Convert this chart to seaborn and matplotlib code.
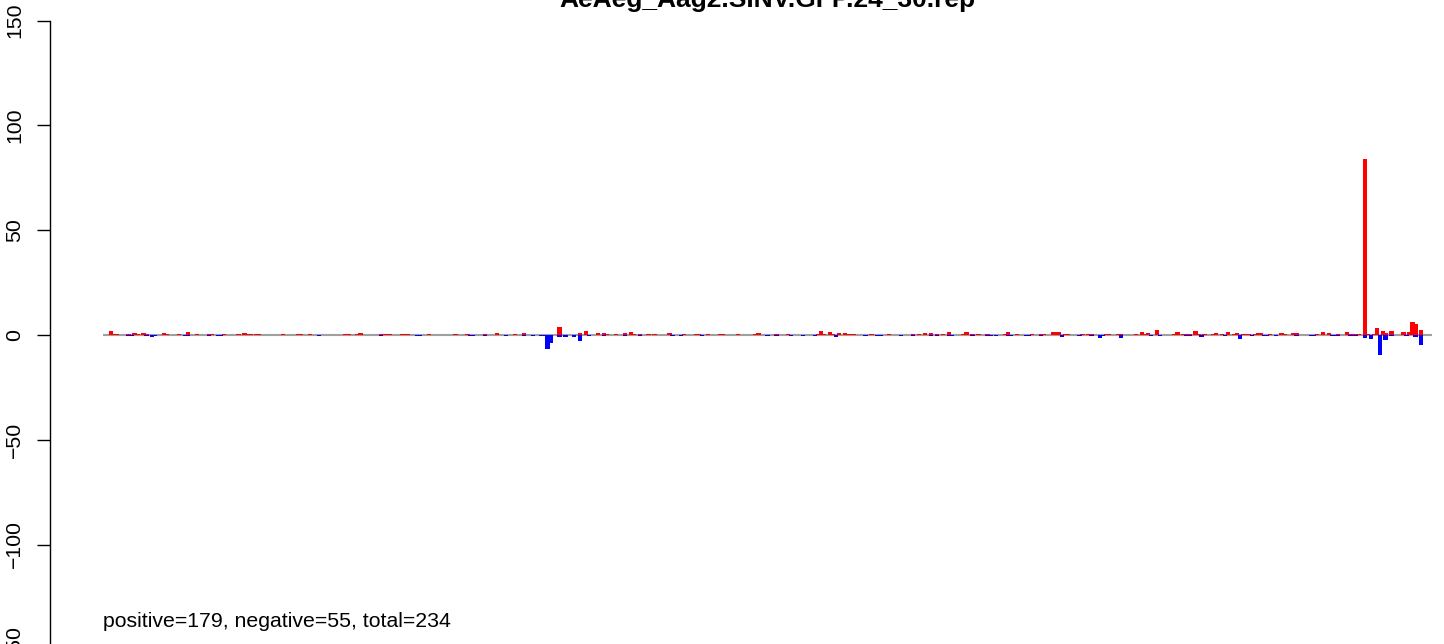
import numpy as np
import pandas as pd
import seaborn as sns
import matplotlib.pyplot as plt

sns.set_style("ticks")
plt.rcParams['font.family'] = ['Liberation Sans', 'DejaVu Sans']
plt.rcParams['text.color'] = 'black'

title = "AeAeg_Aag2.SINV.GFP.24_30.rep"
summary = "positive=179, negative=55, total=234"
n_positions = 447
y_ticks = [-150, -100, -50, 0, 50, 100, 150]

# read counts on the plus strand (red, above zero)
plus_idx = [2, 3, 4, 8, 10, 11, 13, 14, 20, 21, 25, 28, 31, 35, 36, 40, 45, 47, 48, 49,
            51, 52, 60, 65, 66, 69, 81, 82, 85, 86, 93, 94, 95, 96, 100, 101, 102, 109,
            118, 122, 128, 132, 138, 141, 153, 160, 162, 166, 168, 169, 172, 175, 177, 178,
            180, 183, 185, 190, 195, 199, 200, 203, 207, 208, 213, 219, 220,
            226, 230, 240, 241, 242, 244, 245, 247, 249, 250, 251, 252, 258, 264, 272, 274,
            276, 278, 280, 282, 284, 289, 290, 292, 294, 297, 303, 304, 307, 312, 315, 316,
            319, 320, 321, 323, 324, 329, 331, 332,
            337, 338, 341, 342, 347, 349, 350, 351, 354, 360, 361, 363, 364, 365, 367, 368,
            370, 373, 374, 376, 378, 380, 381, 383, 384, 385, 387, 388, 389, 392, 396, 397,
            400, 401, 408, 410, 412, 415, 418, 419, 420, 421, 422,
            424, 425, 427, 428, 430, 431, 433, 437, 439, 440, 441, 443]
plus_val = [1.7, 0.5, 0.5, 0.5, 0.8, 0.5, 0.8, 0.5, 0.8, 0.5, 0.5, 1.3, 0.5, 0.5, 0.5, 0.5, 0.5, 0.8, 0.5, 0.5,
            0.5, 0.5, 0.5, 0.5, 0.5, 0.5, 0.5, 0.5, 0.5, 0.8, 0.5, 0.5, 0.5, 0.5, 0.5, 0.3, 0.5, 0.5,
            0.5, 0.5, 0.5, 1.0, 0.5, 1.0, 3.8, 0.8, 1.7, 0.8, 0.8, 0.5, 0.5, 0.8, 1.3, 0.5,
            0.5, 0.5, 0.5, 0.8, 0.5, 0.5, 0.5, 0.5, 0.5, 0.5, 0.5, 0.5, 0.8,
            0.5, 0.5, 0.5, 1.7, 0.5, 1.3, 0.5, 0.8, 0.8, 0.5, 0.5, 0.5, 0.5, 0.5, 0.5, 0.3,
            0.8, 0.8, 0.5, 0.5, 1.3, 0.5, 1.3, 0.5, 0.5, 0.5, 0.5, 1.3, 0.5, 0.5, 0.5, 0.5,
            1.3, 1.3, 1.3, 0.5, 0.5, 0.5, 0.5, 0.5,
            0.5, 0.5, 0.5, 0.5, 0.5, 1.3, 0.5, 0.8, 2.2, 0.5, 1.3, 0.5, 0.5, 0.5, 1.7, 0.5,
            0.5, 0.5, 0.8, 0.5, 1.3, 0.5, 0.8, 0.5, 0.5, 0.5, 0.5, 0.8, 0.8, 0.5, 0.8, 0.5,
            0.8, 0.8, 0.5, 1.3, 0.8, 0.5, 1.3, 0.5, 0.5, 0.5, 0.5,
            84.0, 0.5, 0.6, 3.5, 1.8, 1.0, 1.8, 1.3, 1.3, 6.0, 5.1, 2.2]

# read counts on the minus strand (blue, below zero)
minus_idx = [8, 9, 14, 16, 17, 27, 28, 35, 38, 39, 72, 93, 105, 106,
             123, 124, 128, 135, 141, 144, 147, 148, 149, 150, 153, 155, 158, 160, 163, 168,
             175, 180, 191, 194, 201, 223,
             226, 231, 235, 239, 246, 256, 260, 261, 268, 272, 278, 280, 284, 285, 292, 297,
             298, 300, 304, 305, 310, 311, 315, 322, 328, 332, 335,
             336, 342, 352, 355, 364, 365, 369, 377, 382, 386, 390, 391, 394, 401, 406, 407,
             413, 414, 415, 419, 420, 421, 424, 426, 429, 431, 433, 438, 441, 443]
minus_val = [0.5, 0.5, 0.5, 1.0, 0.5, 0.5, 0.5, 0.5, 0.5, 0.5, 0.5, 0.5, 0.5, 0.5,
             0.5, 0.5, 0.5, 0.5, 0.5, 0.5, 0.5, 0.5, 6.8, 3.8, 1.0, 1.0, 1.0, 2.9, 0.5, 0.5,
             0.5, 0.5, 0.5, 0.5, 0.5, 0.5,
             0.5, 0.5, 0.5, 0.5, 1.0, 0.5, 0.5, 0.5, 0.5, 0.5, 0.5, 0.5, 0.5, 0.5, 0.5, 0.5,
             0.5, 0.5, 0.5, 0.5, 0.5, 0.5, 0.5, 1.0, 0.5, 0.5, 1.4,
             0.5, 1.4, 0.5, 0.5, 0.5, 0.5, 1.0, 0.5, 1.9, 0.5, 0.5, 0.5, 0.5, 0.5, 0.5, 0.5,
             0.5, 0.5, 0.5, 0.5, 0.5, 0.5, 1.4, 1.9, 9.5, 2.4, 0.5, 0.5, 1.0, 4.8]

plus = np.zeros(n_positions)
plus[plus_idx] = plus_val
minus = np.zeros(n_positions)
minus[minus_idx] = minus_val
df = pd.DataFrame({'position': np.arange(n_positions), 'plus': plus, 'minus': -minus})

W, H = 1444, 644
fig = plt.figure(figsize=(W / 100, H / 100), dpi=100)
top_px, bot_px = 20.7, 649.3
left_px, right_px = 103.3, 1431.7
ax = fig.add_axes([left_px / W, (H - bot_px) / H, (right_px - left_px) / W, (bot_px - top_px) / H])

# zero line sits under the bars
ax.axhline(0, color='#A0A0A0', lw=1.5, zorder=0.5)
sns.barplot(data=df, x='position', y='plus', color='#FF0000', saturation=1, native_scale=True,
            width=1.45, linewidth=0, errorbar=None, ax=ax)
sns.barplot(data=df, x='position', y='minus', color='#0000FF', saturation=1, native_scale=True,
            width=1.45, linewidth=0, errorbar=None, ax=ax)

ax.set_xlim(-0.5, n_positions - 0.5)
ax.set_ylim(-150, 150)
ax.set_xlabel('')
ax.set_ylabel('')
ax.set_xticks([])
ax.set_yticks(y_ticks)
ax.set_yticklabels([str(t).replace('-', '\u2212') for t in y_ticks])
ax.tick_params(axis='y', length=9.4, width=1, labelsize=15.3, pad=9, colors='black',
               labelrotation=90)
for s in ['top', 'right', 'bottom']:
    ax.spines[s].set_visible(False)
ax.spines['left'].set_position(('outward', (left_px - 50) * 0.72))
ax.spines['left'].set_bounds(-150, 150)
ax.spines['left'].set_linewidth(1)
ax.spines['left'].set_color('black')
ax.patch.set_alpha(0)

fig.text(767.5 / W, (H - 7.5) / H, title, ha='center', va='baseline', fontsize=19,
         fontweight='bold', color='black')
fig.text(left_px / W, (H - 627) / H, summary, ha='left', va='baseline', fontsize=15.3,
         color='black')

fig.canvas.draw()
for lab in ax.get_yticklabels():
    lab.set_verticalalignment('center')
    lab.set_rotation(90)
    lab.set_clip_on(False)

fig.savefig('out.png', dpi=100)
